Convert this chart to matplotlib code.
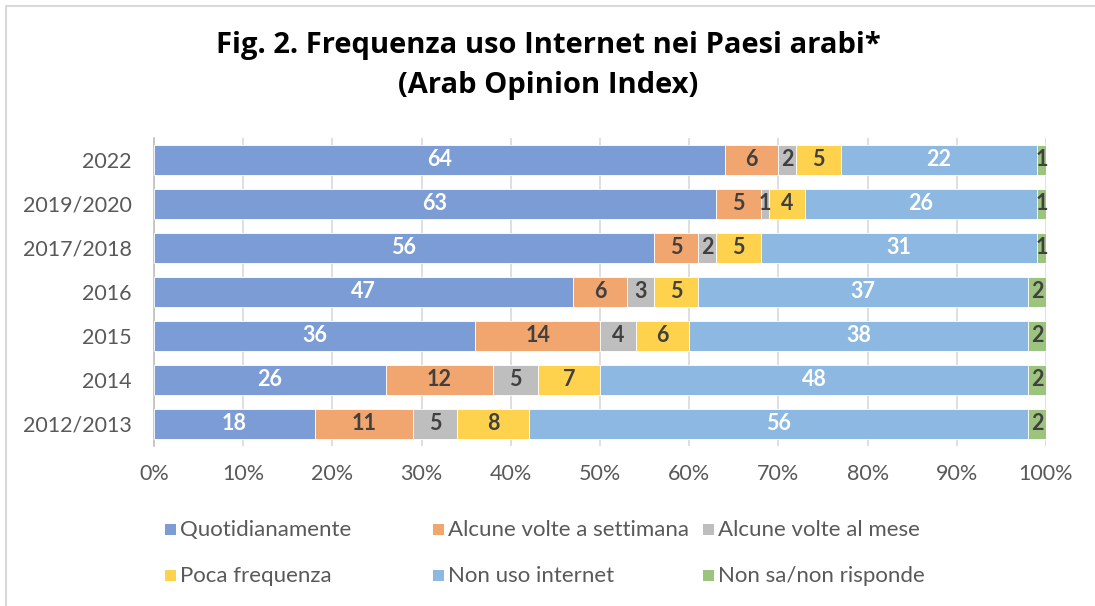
import matplotlib
matplotlib.use('Agg')
import matplotlib.pyplot as plt
from matplotlib.patches import Rectangle
import numpy as np

plt.rcParams['font.family'] = ['Lato', 'DejaVu Sans']

# Data (percentages)
years = ['2022', '2019/2020', '2017/2018', '2016', '2015', '2014', '2012/2013']
series = ['Quotidianamente', 'Alcune volte a settimana', 'Alcune volte al mese',
          'Poca frequenza', 'Non uso internet', 'Non sa/non risponde']
quotidianamente = [64, 63, 56, 47, 36, 26, 18]
settimana = [6, 5, 5, 6, 14, 12, 11]
mese = [2, 1, 2, 3, 4, 5, 5]
poca = [5, 4, 5, 5, 6, 7, 8]
non_uso = [22, 26, 31, 37, 38, 48, 56]
non_sa = [1, 1, 1, 2, 2, 2, 2]

colors = ['#7B9CD5', '#F1A56F', '#BEBEBE', '#FFD24D', '#8CB8E1', '#9CC47F']
label_colors = ['white', '#404040', '#404040', '#404040', 'white', '#404040']

W, H = 1095, 606
fig = plt.figure(figsize=(W / 100, H / 100), dpi=100)
ax = fig.add_axes([154 / W, 1 - 446 / H, (1046 - 154) / W, (446 - 138) / H])

data = np.array([quotidianamente, settimana, mese, poca, non_uso, non_sa], dtype=float)
totals = data.sum(axis=0)
pct = data / totals * 100
y = np.arange(len(years))[::-1]

left = np.zeros(len(years))
containers = []
for i, name in enumerate(series):
    bars = ax.barh(y, pct[i], left=left, height=0.68, color=colors[i],
                   edgecolor='white', linewidth=0.6, label=name, zorder=3)
    containers.append(bars)
    for j in range(len(years)):
        ax.text(left[j] + pct[i][j] / 2, y[j], f'{int(data[i][j])}',
                ha='center', va='center', fontsize=15.5, fontweight='bold',
                color=label_colors[i], zorder=4)
    left += pct[i]

ax.set_xlim(0, 100)
ax.set_ylim(-0.5, len(years) - 0.5)
ax.set_yticks(y)
ax.set_yticklabels(years, fontsize=15.5, color='#595959')
ax.set_xticks(np.arange(0, 101, 10))
ax.set_xticklabels([f'{v}%' for v in range(0, 101, 10)], fontsize=15.5, color='#595959')
ax.tick_params(axis='y', length=0, pad=16)
ax.tick_params(axis='x', length=0, pad=13)
ax.xaxis.grid(True, color='#D9D9D9', linewidth=1.2, zorder=0)
for side in ['top', 'right', 'bottom']:
    ax.spines[side].set_visible(False)
ax.spines['left'].set_color('#BFBFBF')
ax.spines['left'].set_linewidth(1.2)

# title
fig.text(548 / W, 1 - 46 / H, 'Fig. 2. Frequenza uso Internet nei Paesi arabi*',
         ha='center', va='center', fontsize=21, fontweight='bold', color='black',
         family=['Open Sans', 'DejaVu Sans'])
fig.text(548 / W, 1 - 86 / H, '(Arab Opinion Index)',
         ha='center', va='center', fontsize=21, fontweight='bold', color='black',
         family=['Open Sans', 'DejaVu Sans'])

# legend laid out in a 3x2 grid like the original
col_x = [165, 433, 703]
row_y = [530, 576]
for k, bars in enumerate(containers):
    r, c = divmod(k, 3)
    x0, y0 = col_x[c], row_y[r]
    fig.add_artist(Rectangle((x0 / W, 1 - (y0 + 5) / H), 11 / W, 11 / H,
                             transform=fig.transFigure,
                             facecolor=bars.patches[0].get_facecolor(), edgecolor='none'))
    fig.text((x0 + 15) / W, 1 - y0 / H, series[k], ha='left', va='center',
             fontsize=16, color='#595959')

# chart border
fig.add_artist(Rectangle((6 / W, -0.05), 1.2, 1 - 6 / H + 0.05,
                         transform=fig.transFigure, facecolor='none',
                         edgecolor='#D9D9D9', linewidth=1.5))

fig.savefig('out.png', dpi=100)
